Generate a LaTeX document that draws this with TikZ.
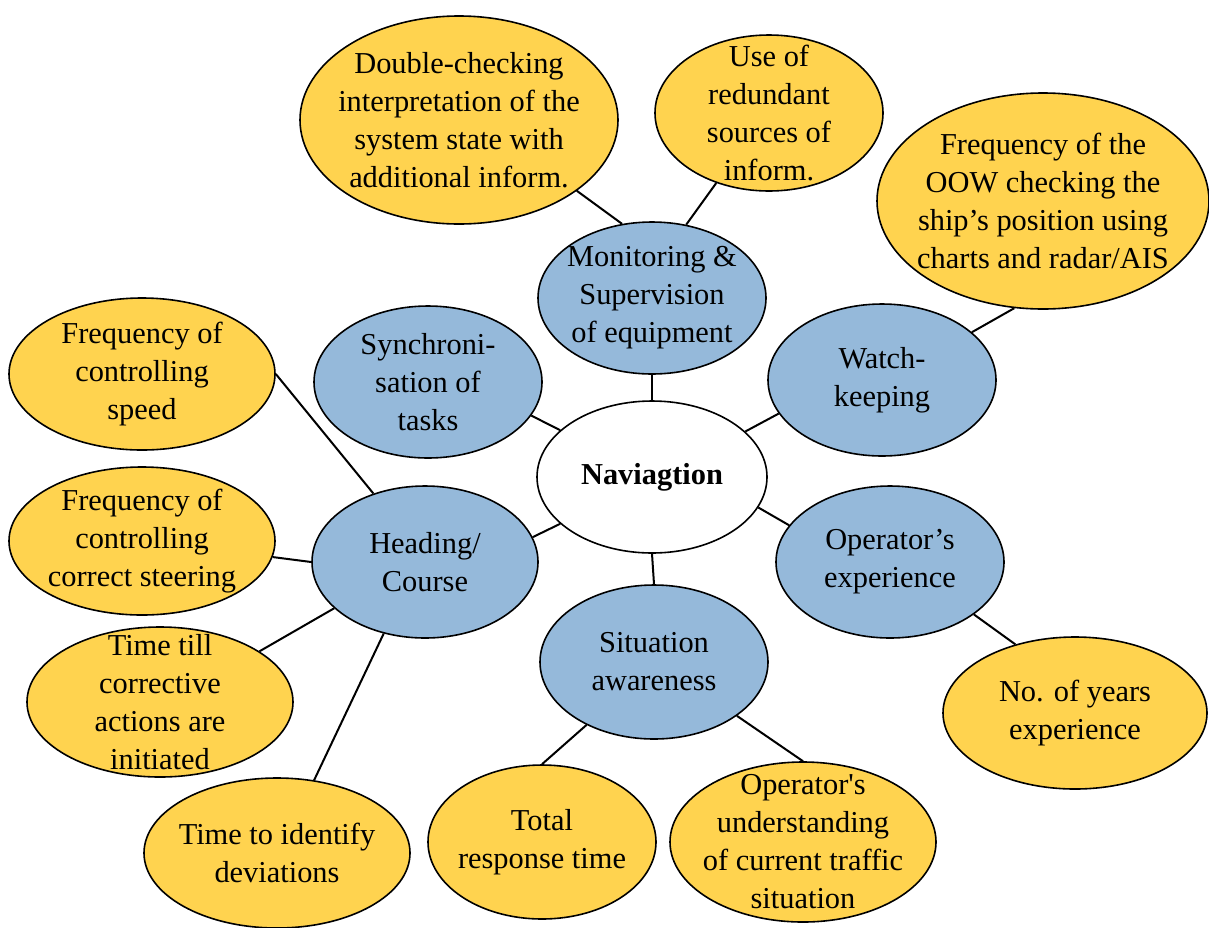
\documentclass[tikz,border=0pt]{standalone}
\usepackage{fontspec}
\setmainfont{Liberation Serif}
\usetikzlibrary{shapes.geometric}
\definecolor{bluefill}{HTML}{95B9DA}
\definecolor{yellowfill}{HTML}{FFD34F}
\begin{document}
\begin{tikzpicture}[x=0.5pt,y=-0.5pt,
  bubble/.style={ellipse, draw=black, line width=0.8pt, inner sep=0pt},
  hub/.style={bubble, fill=white, minimum width=115pt, minimum height=76pt},
  topic/.style={bubble, fill=bluefill, minimum width=114pt, minimum height=76pt},
  item/.style={bubble, fill=yellowfill},
  caption/.style={align=center, inner sep=0pt, font=\fontsize{15.2}{19}\selectfont},
  link/.style={line width=1pt}]
\useasboundingbox (0,0) rectangle (1209,927);

% centre
\node[hub] (nav) at (652,477) {};
\node[caption] (nav-t) at (nav) {\textbf{Naviagtion}};

% second ring
\node[topic] (mon) at (652,298) {};
\node[caption] (mon-t) at (mon) {Monitoring \&\\Supervision\\of equipment};
\node[topic] (syn) at (428,382) {};
\node[caption] (syn-t) at (syn) {Synchroni-\\sation of\\tasks};
\node[topic] (wat) at (882,380) {};
\node[caption] (wat-t) at (wat) {Watch-\\keeping};
\node[topic, minimum width=113pt] (hea) at (425,562) {};
\node[caption] (hea-t) at (hea) {Heading/\\Course};
\node[topic] (ope) at (890,562) {};
\node[caption] (ope-t) at (ope) {Operator’s\\experience};
\node[topic, minimum height=77pt] (sit) at (654,662) {};
\node[caption] (sit-t) at (sit) {Situation\\awareness};

% outer items
\node[item, minimum width=159pt, minimum height=104pt] (dbl) at (459,120) {};
\node[caption] (dbl-t) at (dbl)
  {Double-checking\\interpretation of the\\system state with\\additional inform.};
\node[item, minimum width=114pt, minimum height=78pt] (red) at (769,113) {};
\node[caption] (red-t) at (red) {Use of\\redundant\\sources of\\inform.};
\node[item, minimum width=166pt, minimum height=108pt] (oow) at (1043,201) {};
\node[caption] (oow-t) at (oow)
  {Frequency of the\\OOW checking the\\ship’s position using\\charts and radar/AIS};
\node[item, minimum width=133pt, minimum height=76pt] (spd) at (142,374) {};
\node[caption] (spd-t) at (spd) {Frequency of\\controlling\\speed};
\node[item, minimum width=133pt, minimum height=74pt] (ste) at (142,541) {};
\node[caption] (ste-t) at (ste) {Frequency of\\controlling\\correct steering};
\node[item, minimum width=133pt, minimum height=75pt] (cor) at (160,702) {};
\node[caption] (cor-t) at (cor) {Time till\\corrective\\actions are\\initiated};
\node[item, minimum width=133pt, minimum height=75pt] (dev) at (277,853) {};
\node[caption] (dev-t) at (dev) {Time to identify\\deviations};
\node[item, minimum width=114pt, minimum height=77pt] (tot) at (542,842) {};
\node[caption] (tot-t) at (tot) {Total\\response time};
\node[item, minimum width=133pt, minimum height=80pt] (und) at (803,842) {};
\node[caption] (und-t) at (und)
  {Operator\textquotesingle s\\understanding\\of current traffic\\situation};
\node[item, minimum width=132pt, minimum height=76pt] (yrs) at (1075,713) {};
\node[caption] (yrs-t) at (yrs) {No. of years\\experience};

% connectors
\draw[link] (nav.90) -- (mon.-90);
\draw[link] (nav.153.4) -- (syn.-18.4);
\draw[link] (nav.26.1) -- (wat.198.4);
\draw[link] (nav.207.1) -- (hea.13);
\draw[link] (nav.-16.1) -- (ope.160.7);
\draw[link] (nav.-90) -- (sit.90);
\draw[link] (mon.112.7) -- (dbl.-31.8);
\draw[link] (mon.65) -- (red.233.1);
\draw[link] (wat.28.6) -- (oow.255.3);
\draw[link] (hea.127.9) -- (spd.0);
\draw[link] (hea.180) -- (ste.-7.5);
\draw[link] (hea.207.8) -- (cor.27.5);
\draw[link] (hea.240) -- (dev.63.4);
\draw[link] (sit.223.2) -- (tot.90);
\draw[link] (sit.-33.7) -- (und.90);
\draw[link] (ope.-32.4) -- (yrs.131.4);
\end{tikzpicture}
\end{document}
